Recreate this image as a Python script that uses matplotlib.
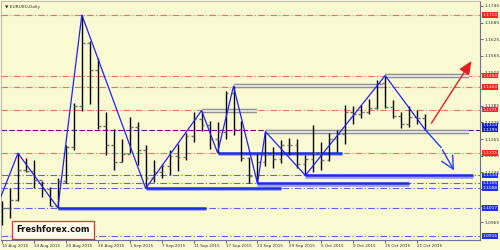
import matplotlib
matplotlib.use("Agg")
import matplotlib.pyplot as plt
from matplotlib.transforms import blended_transform_factory

# daily EURUSD bars, 10 Aug 2015 .. 22 Oct 2015
opens = [1.0968, 1.1017, 1.1045, 1.1152, 1.1150, 1.1118, 1.1085, 1.1025, 1.1114, 1.1238,
         1.1385, 1.1611, 1.1515, 1.1311, 1.1243, 1.1181, 1.1210, 1.1310, 1.1224, 1.1123,
         1.1148, 1.1167, 1.1203, 1.1200, 1.1275, 1.1337, 1.1315, 1.1264, 1.1290, 1.1431,
         1.1300, 1.1195, 1.1132, 1.1183, 1.1210, 1.1193, 1.1245, 1.1244, 1.1176, 1.1194,
         1.1215, 1.1190, 1.1265, 1.1283, 1.1362, 1.1357, 1.1361, 1.1377, 1.1468, 1.1382,
         1.1350, 1.1319, 1.1345, 1.1342]
highs = [1.1043, 1.1089, 1.1214, 1.1195, 1.1189, 1.1114, 1.1092, 1.1125, 1.1245, 1.1396,
         1.1713, 1.1620, 1.1559, 1.1361, 1.1303, 1.1267, 1.1343, 1.1328, 1.1242, 1.1188,
         1.1176, 1.1225, 1.1248, 1.1288, 1.1364, 1.1368, 1.1331, 1.1325, 1.1437, 1.1456,
         1.1329, 1.1200, 1.1211, 1.1292, 1.1235, 1.1263, 1.1270, 1.1264, 1.1209, 1.1317,
         1.1253, 1.1288, 1.1296, 1.1388, 1.1386, 1.1388, 1.1410, 1.1477, 1.1494, 1.1407,
         1.1363, 1.1383, 1.1370, 1.1357]
lows = [1.0955, 1.0982, 1.1043, 1.1145, 1.1089, 1.1056, 1.1024, 1.1017, 1.1108, 1.1224,
        1.1366, 1.1393, 1.1300, 1.1206, 1.1152, 1.1181, 1.1213, 1.1170, 1.1087, 1.1109,
        1.1124, 1.1136, 1.1150, 1.1190, 1.1255, 1.1294, 1.1230, 1.1216, 1.1267, 1.1280,
        1.1185, 1.1107, 1.1105, 1.1168, 1.1160, 1.1178, 1.1208, 1.1162, 1.1134, 1.1148,
        1.1152, 1.1185, 1.1220, 1.1247, 1.1320, 1.1341, 1.1356, 1.1375, 1.1378, 1.1342,
        1.1306, 1.1310, 1.1320, 1.1299]
closes = [1.1017, 1.1045, 1.1152, 1.1150, 1.1118, 1.1085, 1.1025, 1.1114, 1.1238, 1.1385,
          1.1611, 1.1515, 1.1311, 1.1243, 1.1181, 1.1210, 1.1310, 1.1224, 1.1123, 1.1148,
          1.1167, 1.1203, 1.1200, 1.1275, 1.1337, 1.1315, 1.1264, 1.1290, 1.1431, 1.1300,
          1.1195, 1.1132, 1.1183, 1.1210, 1.1193, 1.1245, 1.1244, 1.1176, 1.1194, 1.1215,
          1.1190, 1.1265, 1.1283, 1.1362, 1.1357, 1.1361, 1.1377, 1.1468, 1.1382, 1.1350,
          1.1319, 1.1345, 1.1342, 1.1299]

date_ticks = [0, 4, 8, 12, 16, 20, 24, 28, 32, 36, 40, 44, 48, 52]
date_labels = ["10 Aug 2015", "14 Aug 2015", "20 Aug 2015", "26 Aug 2015", "1 Sep 2015",
               "7 Sep 2015", "11 Sep 2015", "17 Sep 2015", "23 Sep 2015", "29 Sep 2015",
               "5 Oct 2015", "9 Oct 2015", "15 Oct 2015", "21 Oct 2015"]
price_ticks = [1.1745, 1.1685, 1.1625, 1.1565, 1.1505, 1.1445, 1.1385, 1.1325,
               1.1265, 1.1205, 1.1145, 1.1085, 1.1025, 1.0965]

# zigzag pivots (bar index, price)
zz_bars = [-3, 2, 7, 10, 18, 25, 27, 29, 32, 33, 38, 48, 53]
zz_prices = [1.0848, 1.1214, 1.1017, 1.1713, 1.1087, 1.1368, 1.1216, 1.1456,
             1.1105, 1.1292, 1.1134, 1.1494, 1.1299]

red_levels = [1.1713, 1.1494, 1.1453, 1.1371, 1.1215]
blue_levels = [1.1134, 1.1105, 1.1088, 1.1017, 1.0916]
bid = 1.1299
ask = 1.1314

# support (blue) and resistance (grey) segments: start bar, end bar, price
support = [(7, 25.5, 1.1017), (18, 35, 1.1088), (27, 42.6, 1.1216),
           (32, 51, 1.1105), (38, 59, 1.1134)]
resist = [(25, 32, 1.1368), (29, 47.7, 1.1456), (48, 58.5, 1.1494), (33, 58.5, 1.1292)]

BG = "#fafad2"
fig = plt.figure(figsize=(5, 2.5), dpi=100, facecolor=BG)
ax = fig.add_axes([0.002, 0.04, 0.958, 0.956], facecolor=BG)
ax.set_xlim(-0.125, 59.875)
ax.set_ylim(1.0901, 1.1763)

for p in red_levels:
    ax.axhline(p, color="#f07060", lw=0.8, ls=(0, (6, 2, 1, 2)), zorder=1)
for p in blue_levels:
    ax.axhline(p, color="#6060f0", lw=0.8, ls=(0, (6, 2, 1, 2)), zorder=1)
ax.axhline(bid, color="#800080", lw=0.8, ls=(0, (5, 2)), zorder=1)

# resistance bars: silver with highlight
for x0, x1, p in resist:
    ax.hlines(p, x0, x1, color="#909090", lw=3.2, zorder=2)
    ax.hlines(p, x0, x1, color="#f0f0f0", lw=1.2, zorder=2)
for x0, x1, p in support:
    ax.hlines(p - 0.0004, x0, x1, color="#a0a0e0", lw=2.0, zorder=2)
    ax.hlines(p, x0, x1, color="#1a2ee8", lw=1.8, zorder=2)

idx = list(range(len(opens)))
ax.vlines(idx, lows, highs, color="black", lw=1.0, zorder=3)
ax.hlines(opens, [i - 0.35 for i in idx], idx, color="#707070", lw=1.0, zorder=3)
ax.hlines(closes, idx, [i + 0.35 for i in idx], color="#707070", lw=1.0, zorder=3)

ax.plot(zz_bars, zz_prices, color="#2020ff", lw=0.9, zorder=4)

# forecast arrows
ax.annotate("", xy=(59.0, 1.1555), xytext=(53.6, 1.1314),
            arrowprops=dict(arrowstyle="-|>,head_length=0.8,head_width=0.35",
                            color="#e02020", lw=1.0), zorder=5)
ax.plot([53, 55], [1.1299, 1.1235], color="#2040f0", lw=1.0, zorder=5)
ax.annotate("", xy=(56.8, 1.1143), xytext=(55, 1.1235),
            arrowprops=dict(arrowstyle="->,head_length=0.9,head_width=0.45",
                            color="#2040f0", lw=1.0), zorder=5)

# price scale on the right; labels hidden under a level box are dropped
boxed = red_levels + blue_levels + [bid, ask]
shown = [("" if any(abs(p - b) < 0.0009 for b in boxed) else f"{p:.4f}")
         for p in price_ticks]
ax.yaxis.tick_right()
ax.set_yticks(price_ticks)
ax.set_yticklabels(shown)
ax.tick_params(axis="y", length=2, width=0.5, pad=1, labelsize=3.2,
               colors="#303030")
ax.set_xticks(date_ticks)
ax.set_xticklabels(date_labels, ha="left")
ax.tick_params(axis="x", length=2, width=0.5, pad=1, labelsize=3.0,
               colors="#303030")

for s in ["left", "top"]:
    ax.spines[s].set_color("#b0b0b0")
    ax.spines[s].set_linewidth(0.6)
for s in ["right", "bottom"]:
    ax.spines[s].set_color("#7070a0")
    ax.spines[s].set_linewidth(0.8)

tr = blended_transform_factory(ax.transAxes, ax.transData)
for p in red_levels:
    ax.text(1.005, p, f"{p:.4f}", transform=tr, fontsize=3.2, color="white",
            va="center", ha="left", zorder=6,
            bbox=dict(boxstyle="square,pad=0.15", fc="#ff2020", ec="none"))
for p in blue_levels + [bid, ask]:
    fc = "#1020c0" if p in (bid, ask) else "#2030e8"
    ax.text(1.005, p, f"{p:.4f}", transform=tr, fontsize=3.2, color="white",
            va="center", ha="left", zorder=6,
            bbox=dict(boxstyle="square,pad=0.15", fc=fc, ec="none"))

ax.text(0.008, 0.985, "\u25bc EURUSD,Daily", transform=ax.transAxes, fontsize=3.2,
        color="#303030", va="top", ha="left")
ax.text(0.108, 0.042, "Freshforex.com", transform=ax.transAxes, fontsize=6.0,
        fontweight="bold", color="#111111", ha="center", va="center", zorder=7,
        bbox=dict(boxstyle="square,pad=0.5", fc="#fffbea", ec="#e03030", lw=0.9))

fig.savefig("out.png", dpi=100, facecolor=BG)
